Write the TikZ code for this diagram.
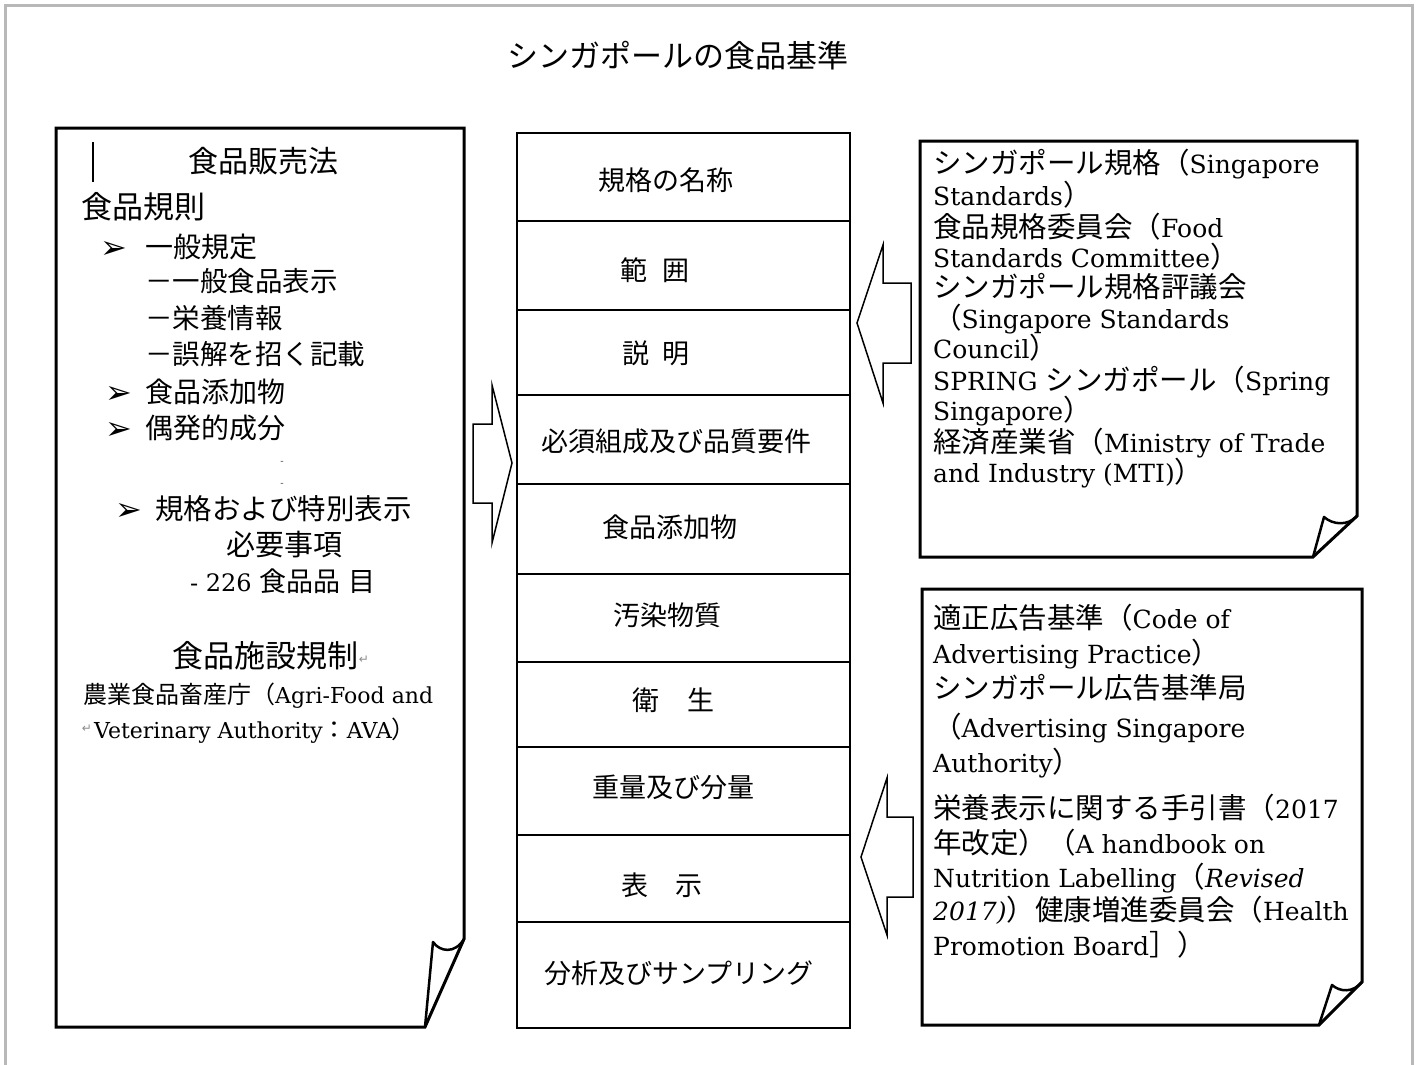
\documentclass[tikz,border=0pt]{standalone}
\usepackage{fontspec}
\setmainfont{DejaVu Serif}
\newfontfamily\jp{Noto Sans CJK JP}
\newfontfamily\jpr[Scale=1.14]{Noto Sans CJK JP}
\newfontfamily\dvs{DejaVu Sans}
\newcommand\Jr[1]{{\jpr #1}}
\newcommand\Jl[1]{{\jp #1}}
\begin{document}
\begin{tikzpicture}[x=1pt,y=-1pt,
  paper/.style={line width=3pt, line join=miter},
  curl/.style={line width=2.5pt, line join=round},
  cellbox/.style={draw, line width=2.5pt, minimum width=333pt, inner sep=0pt, outer sep=0pt},
  blockarrow/.style={draw, line width=1.5pt, line join=miter, fill=white},
  rt/.style={anchor=base west, inner sep=0pt, font=\fontsize{25}{25}\selectfont},
  lt/.style={anchor=base west, inner sep=0pt, font=\jp\fontsize{28}{28}\selectfont},
  ct/.style={anchor=base, inner sep=0pt, font=\jp\fontsize{27}{27}\selectfont},
  bul/.style={anchor=base west, inner sep=0pt, font=\dvs\fontsize{32}{32}\selectfont},
  fmark/.style={inner sep=0pt, text=black!45, font=\dvs\fontsize{12}{12}\selectfont}]
\useasboundingbox (0,0) rectangle (1417,1065);
\fill[white] (0,0) rectangle (1417,1065);
% outer grey frame
\draw[black!28, line width=3pt] (5,1070) -- (5,6) -- (1412,6) -- (1412,1070);

% title
\node[anchor=base, inner sep=0pt, font=\jp\fontsize{31}{31}\selectfont] (title) at (678,67) {シンガポールの食品基準};

% ---------- left sheet ----------
\draw[paper] (56,128) -- (464,128) -- (464,939) -- (425,1027) -- (56,1027) -- cycle;
\draw[curl] (464,939) .. controls (455,954) and (440,952) .. (433,942) -- (425,1027);
\coordinate (barT) at (93,142);
\coordinate (barB) at (93,182);
\draw[line width=1.6pt] (barT) -- (barB);
\node[lt, anchor=base, font=\jp\fontsize{30}{30}\selectfont] (la1) at (263,172) {食品販売法};
\node[lt, font=\jp\fontsize{31}{31}\selectfont] (la2) at (81,218) {食品規則};
\node[bul] (lb1) at (100,258) {➢};
\node[lt] (la3) at (145,257) {一般規定};
\node[lt, font=\jp\fontsize{27.5}{27.5}\selectfont] (la4) at (145,291) {－一般食品表示};
\node[lt, font=\jp\fontsize{27.5}{27.5}\selectfont] (la5) at (145,328) {－栄養情報};
\node[lt, font=\jp\fontsize{27.5}{27.5}\selectfont] (la6) at (145,364) {－誤解を招く記載};
\node[bul] (lb2) at (105,403) {➢};
\node[lt] (la7) at (145,402) {食品添加物};
\node[bul] (lb3) at (105,439) {➢};
\node[lt] (la8) at (145,438) {偶発的成分};
\node[fmark, text=black!70, font=\fontsize{10}{10}\selectfont] (dot1) at (282,463) {-};
\node[fmark, text=black!70, font=\fontsize{10}{10}\selectfont] (dot2) at (282,485) {-};
\node[bul] (lb4) at (115,520) {➢};
\node[lt, font=\jp\fontsize{28.5}{28.5}\selectfont] (la9) at (155,519) {規格および特別表示};
\node[lt, font=\jp\fontsize{29}{29}\selectfont] (la10) at (226,555) {必要事項};
\node[anchor=base west, inner sep=0pt, font=\fontsize{24}{24}\selectfont] (la11) at (190,591)
  {- 226 \Jl{\fontsize{27}{27}\selectfont 食品品\hspace{8pt}目}};
\node[lt, font=\jp\fontsize{31}{31}\selectfont] (la12) at (172,667) {食品施設規制};
\node[fmark] (ret1) at (364,660) {↵};
\node[anchor=base west, inner sep=0pt, font=\fontsize{22}{22}\selectfont] (la13) at (83,703)
  {\Jl{\fontsize{24}{24}\selectfont 農業食品畜産庁（}Agri-Food and};
\node[fmark] (ret2) at (87,729) {↵};
\node[anchor=base west, inner sep=0pt, font=\fontsize{22}{22}\selectfont] (la14) at (94,738)
  {Veterinary Authority\Jl{\fontsize{24}{24}\selectfont ：}AVA\Jl{\fontsize{24}{24}\selectfont ）}};

% ---------- centre column ----------
\node[cellbox, minimum height=88pt] (c1) at (683.5,177) {};
\node[cellbox, minimum height=89pt] (c2) at (683.5,265.5) {};
\node[cellbox, minimum height=85pt] (c3) at (683.5,352.5) {};
\node[cellbox, minimum height=89pt] (c4) at (683.5,439.5) {};
\node[cellbox, minimum height=90pt] (c5) at (683.5,529) {};
\node[cellbox, minimum height=88pt] (c6) at (683.5,618) {};
\node[cellbox, minimum height=85pt] (c7) at (683.5,704.5) {};
\node[cellbox, minimum height=88pt] (c8) at (683.5,791) {};
\node[cellbox, minimum height=87pt] (c9) at (683.5,878.5) {};
\node[cellbox, minimum height=106pt] (c10) at (683.5,975) {};
\node[ct] (t1) at (666,190) {規格の名称};
\node[ct] (t2) at (655,280) {範\hspace{16pt}囲};
\node[ct] (t3) at (656,363) {説\hspace{14pt}明};
\node[ct] (t4) at (676,451) {必須組成及び品質要件};
\node[ct] (t5) at (670,537) {食品添加物};
\node[ct] (t6) at (667,625) {汚染物質};
\node[ct] (t7) at (673,710) {衛\hspace{28pt}生};
\node[ct] (t8) at (673,797) {重量及び分量};
\node[ct] (t9) at (662,895) {表\hspace{27pt}示};
\node[ct] (t10) at (679,983) {分析及びサンプリング};

% ---------- block arrows ----------
\draw[blockarrow] (473,424) -- (492,424) -- (492,385) -- (512,463) -- (492,543) -- (492,503) -- (473,503) -- cycle;
\draw[blockarrow] (911,283) -- (883,283) -- (883,245) -- (857,323) -- (883,403) -- (883,363) -- (911,363) -- cycle;
\draw[blockarrow] (913,817) -- (887,817) -- (887,778) -- (861,857) -- (887,935) -- (887,897) -- (913,897) -- cycle;

% ---------- right upper sheet ----------
\draw[paper] (920,141) -- (1357,141) -- (1357,516) -- (1313,557) -- (920,557) -- cycle;
\draw[curl] (1357,516) .. controls (1348,526) and (1333,525) .. (1324,517) -- (1313,557);
\node[rt] (r1) at (933,173) {\Jr{シンガポール規格（}Singapore};
\node[rt] (r2) at (933,205) {Standards\Jr{）}};
\node[rt] (r3) at (933,237) {\Jr{食品規格委員会（}Food};
\node[rt] (r4) at (933,267) {Standards Committee\Jr{）}};
\node[rt] (r5) at (933,297) {\Jr{シンガポール規格評議会}};
\node[rt] (r6) at (933,328) {\Jr{（}Singapore Standards};
\node[rt] (r7) at (933,358) {Council\Jr{）}};
\node[rt] (r8) at (933,390) {SPRING \Jr{シンガポール（}Spring};
\node[rt] (r9) at (933,420) {Singapore\Jr{）}};
\node[rt] (r10) at (933,452) {\Jr{経済産業省（}Ministry of Trade};
\node[rt] (r11) at (933,482) {and Industry (MTI)\Jr{）}};

% ---------- right lower sheet ----------
\draw[paper] (922,589) -- (1362,589) -- (1362,982) -- (1319,1025) -- (922,1025) -- cycle;
\draw[curl] (1362,982) .. controls (1353,993) and (1340,992) .. (1332,985) -- (1319,1025);
\node[rt] (s1) at (933,628) {\Jr{適正広告基準（}Code of};
\node[rt] (s2) at (933,663) {Advertising Practice\Jr{）}};
\node[rt] (s3) at (933,698) {\Jr{シンガポール広告基準局}};
\node[rt] (s4) at (933,737) {\Jr{（}Advertising Singapore};
\node[rt] (s5) at (933,772) {Authority\Jr{）}};
\node[rt] (s6) at (933,818) {\Jr{栄養表示に関する手引書（}2017};
\node[rt] (s7) at (933,853) {\Jr{年改定）（}A handbook on};
\node[rt] (s8) at (933,887) {Nutrition Labelling\Jr{（}\textit{Revised}};
\node[rt] (s9) at (933,920) {\textit{2017)}\Jr{）健康増進委員会（}Health};
\node[rt] (s10) at (933,955) {Promotion Board\Jr{］）}};
\end{tikzpicture}
\end{document}
